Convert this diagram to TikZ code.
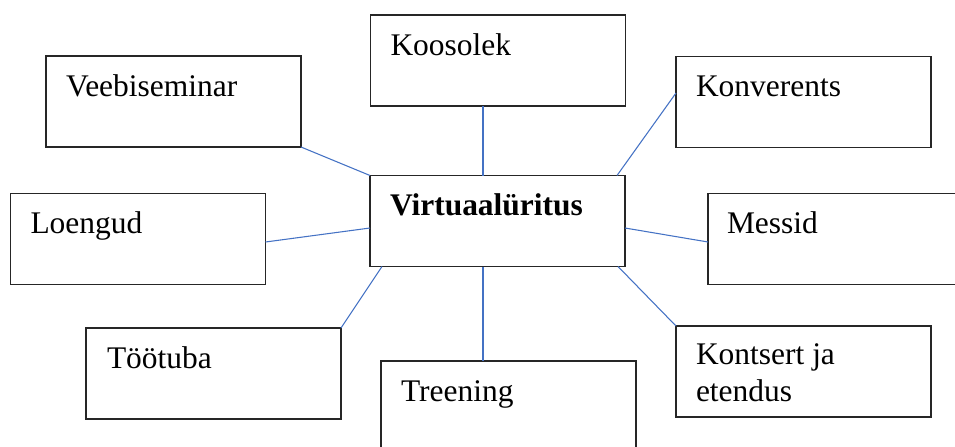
\documentclass[tikz,border=0pt]{standalone}
\usepackage{fontspec}
\setmainfont{Liberation Serif}
\usetikzlibrary{calc}
\definecolor{linkblue}{HTML}{4472C4}
\definecolor{boxline}{HTML}{262626}
\begin{document}
\begin{tikzpicture}[x=0.75pt, y=-0.75pt,
  box/.style={draw=boxline, line width=1pt, rectangle, minimum width=191.25pt,
    minimum height=68.25pt, inner sep=0pt, outer sep=0pt},
  txt/.style={anchor=base west, inner sep=0pt, outer sep=0pt, align=left,
    font=\fontsize{23.6}{27.75}\selectfont},
  link/.style={draw=linkblue, line width=0.8pt}]
\useasboundingbox (0,0) rectangle (955,446);
\clip (0,0) rectangle (955,446);

% boxes
\node[box] (ko) at (498,60.5) {};
\node[box] (vb) at (173.5,101.5) {};
\node[box] (kn) at (803.5,102) {};
\node[box] (vr) at (497.5,221) {};
\node[box] (lo) at (138,239) {};
\node[box] (me) at (835.5,239) {};
\node[box] (to) at (213.5,373.5) {};
\node[box] (tr) at (508.5,406.5) {};
\node[box] (ks) at (803.5,371.5) {};

% labels, set at the upper left of each box
\node[txt] (kot) at ($(ko.north west)+(20,40)$) {Koosolek};
\node[txt] (vbt) at ($(vb.north west)+(20,40)$) {Veebiseminar};
\node[txt] (knt) at ($(kn.north west)+(20,40)$) {Konverents};
\node[txt] (vrt) at ($(vr.north west)+(20,39.5)$) {\bfseries Virtuaalüritus};
\node[txt] (lot) at ($(lo.north west)+(20,40)$) {Loengud};
\node[txt] (met) at ($(me.north west)+(19,39.5)$) {Messid};
\node[txt] (tot) at ($(to.north west)+(21,40.5)$) {Töötuba};
\node[txt] (trt) at ($(tr.north west)+(20,40.5)$) {Treening};
% two-line label: the base anchor sits on the second line
\node[txt] (kst) at ($(ks.north west)+(20,75)$) {Kontsert ja\\etendus};

% connectors
\draw[link] ($(ko.south)+(-15,0)$) -- ($(vr.north)+(-14.5,0)$);
\draw[link] (vb.south east) -- (vr.north west);
\draw[link] ($(kn.west)+(0,-9)$) -- ($(vr.north east)+(-8,0)$);
\draw[link] ($(lo.east)+(0,3)$) -- ($(vr.west)+(0,7)$);
\draw[link] ($(vr.east)+(0,7)$) -- ($(me.west)+(0,3)$);
\draw[link] (to.north east) -- ($(vr.south west)+(12,0)$);
\draw[link] ($(vr.south east)+(-7,0)$) -- (ks.north west);
\draw[link] ($(vr.south)+(-14.5,0)$) -- ($(tr.north)+(-25.5,0)$);
\end{tikzpicture}
\end{document}
